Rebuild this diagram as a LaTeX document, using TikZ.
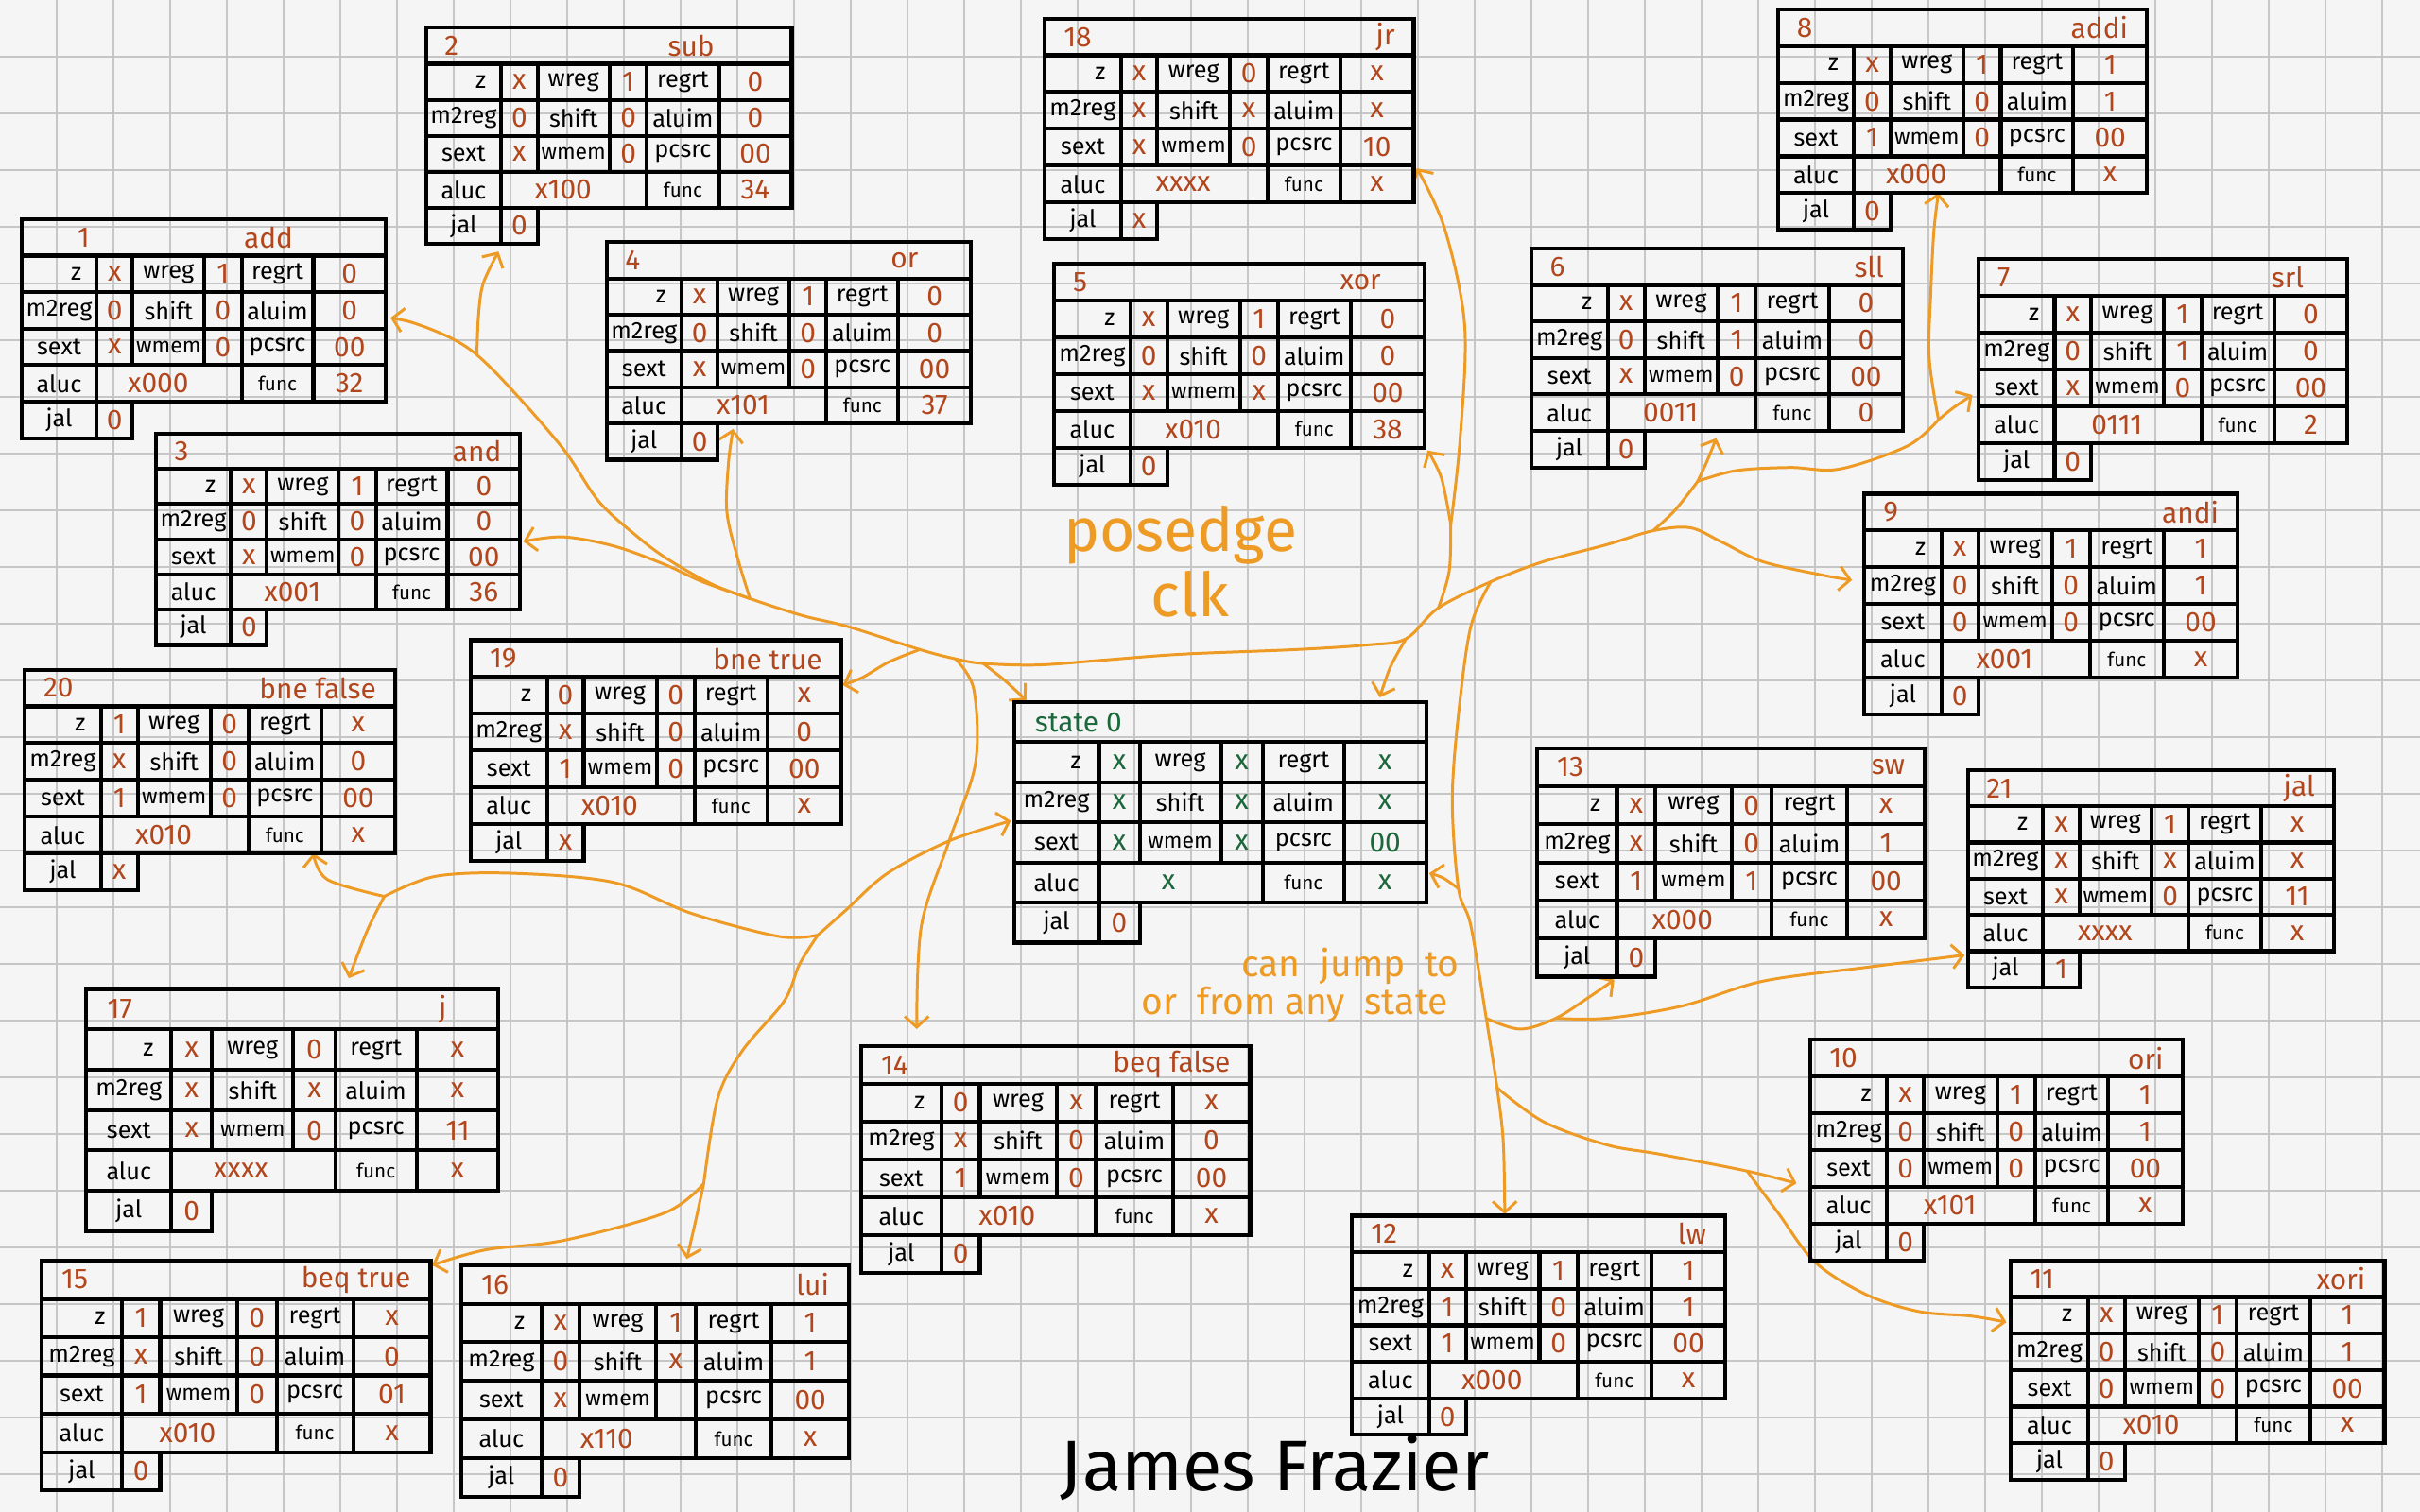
\documentclass[tikz,border=0pt]{standalone}
\usepackage{fontspec}
\setmainfont{Fira Sans}
\usetikzlibrary{arrows.meta}
\definecolor{valred}{RGB}{178,70,28}
\definecolor{arr}{RGB}{238,155,38}
\definecolor{grn}{RGB}{28,104,60}
\definecolor{bg}{RGB}{245,245,245}
\definecolor{gridc}{RGB}{198,198,198}
\def\vcol{valred}
\tikzset{
  tab/.style={line width=1.8pt, line join=miter},
  lab/.style={font=\fontsize{11}{11}\selectfont, text=black, inner sep=0pt},
  slab/.style={font=\fontsize{10}{10}\selectfont, text=black, inner sep=0pt},
  flab/.style={font=\fontsize{9}{9}\selectfont, text=black, inner sep=0pt},
  val/.style={font=\fontsize{13}{13}\selectfont, text=\vcol, inner sep=0pt},
  ttl/.style={font=\fontsize{13}{13}\selectfont, text=\vcol, inner sep=0pt},
  conn/.style={draw=arr, line width=1.3pt, line cap=round, line join=round},
  arrowend/.style={-{Straight Barb[length=5pt,width=11pt]}},
  arrowboth/.style={{Straight Barb[length=5pt,width=11pt]}-{Straight Barb[length=5pt,width=11pt]}}
}
\def\stabv#1/#2/#3/#4/#5/#6/#7/#8/#9\relax{%
  \node[val] (\curname-v1) at (\qmb,\qna) {#1};
  \node[val] (\curname-v2) at (\qmd,\qna) {#2};
  \node[val] (\curname-v3) at (\qmf,\qna) {#3};
  \node[val] (\curname-v4) at (\qmb,\qnb) {#4};
  \node[val] (\curname-v5) at (\qmd,\qnb) {#5};
  \node[val] (\curname-v6) at (\qmf,\qnb) {#6};
  \node[val] (\curname-v7) at (\qmb,\qnc) {#7};
  \node[val] (\curname-v8) at (\qmd,\qnc) {#8};
  \node[val] (\curname-v9) at (\qmf,\qnc) {#9};
}
\def\stabw#1/#2/#3\relax{%
  \node[val] (\curname-v10) at ({\qX+0.375*\qW},\qnd) {#1};
  \node[val] (\curname-v11) at (\qmf,\qnd) {#2};
  \node[val,text=valred] (\curname-v12) at (\qmb,\qne) {#3};
}
\def\stab#1(#2,#3,#4,#5)#6#7#8#9{%
  \def\curname{#1}%
  \pgfmathsetmacro\qX{#2}%
  \pgfmathsetmacro\qY{#3}%
  \pgfmathsetmacro\qW{#4-#2}%
  \pgfmathsetmacro\qH{(#5-#3)/6}%
  \pgfmathsetmacro\qa{\qX+0.206*\qW}%
  \pgfmathsetmacro\qb{\qX+0.305*\qW}%
  \pgfmathsetmacro\qc{\qX+0.502*\qW}%
  \pgfmathsetmacro\qd{\qX+0.604*\qW}%
  \pgfmathsetmacro\qe{\qX+0.801*\qW}%
  \pgfmathsetmacro\qf{#4}%
  \pgfmathsetmacro\qra{\qY+\qH}%
  \pgfmathsetmacro\qrb{\qY+2*\qH}%
  \pgfmathsetmacro\qrc{\qY+3*\qH}%
  \pgfmathsetmacro\qrd{\qY+4*\qH}%
  \pgfmathsetmacro\qre{\qY+5*\qH}%
  \pgfmathsetmacro\qrf{#5}%
  \pgfmathsetmacro\qma{(\qX+\qa)/2}%
  \pgfmathsetmacro\qmb{(\qa+\qb)/2}%
  \pgfmathsetmacro\qmc{(\qb+\qc)/2}%
  \pgfmathsetmacro\qmd{(\qc+\qd)/2}%
  \pgfmathsetmacro\qme{(\qd+\qe)/2}%
  \pgfmathsetmacro\qmf{(\qe+\qf)/2}%
  \pgfmathsetmacro\qnt{(\qY+\qra)/2}%
  \pgfmathsetmacro\qna{(\qra+\qrb)/2}%
  \pgfmathsetmacro\qnb{(\qrb+\qrc)/2}%
  \pgfmathsetmacro\qnc{(\qrc+\qrd)/2}%
  \pgfmathsetmacro\qnd{(\qrd+\qre)/2}%
  \pgfmathsetmacro\qne{(\qre+\qrf)/2}%
  \coordinate (#1) at ({(\qX+\qf)/2},{(\qY+\qre)/2});
  \draw[tab] (\qX,\qY) rectangle (\qf,\qre);
  \draw[tab] (\qX,\qra) -- (\qf,\qra) (\qX,\qrb) -- (\qf,\qrb) (\qX,\qrc) -- (\qf,\qrc) (\qX,\qrd) -- (\qf,\qrd);
  \draw[tab] (\qa,\qra) -- (\qa,\qre) (\qb,\qra) -- (\qb,\qrd) (\qc,\qra) -- (\qc,\qrd) (\qd,\qra) -- (\qd,\qre) (\qe,\qra) -- (\qe,\qre);
  \draw[tab] (\qX,\qre) rectangle (\qb,\qrf) (\qa,\qre) -- (\qa,\qrf);
  \node[ttl,anchor=west] (#1-num) at ({\qX+0.05*\qW},\qnt) {#6};
  \node[ttl,anchor=east] (#1-name) at ({\qf-0.05*\qW},\qnt) {#7};
  \node[lab] (#1-l1) at ({\qX+0.15*\qW},\qna) {z};
  \node[lab] (#1-l2) at (\qmc,\qna) {wreg};
  \node[lab] (#1-l3) at (\qme,\qna) {regrt};
  \node[lab] (#1-l4) at (\qma,\qnb) {m2reg};
  \node[lab] (#1-l5) at (\qmc,\qnb) {shift};
  \node[lab] (#1-l6) at (\qme,\qnb) {aluim};
  \node[lab] (#1-l7) at (\qma,\qnc) {sext};
  \node[slab] (#1-l8) at (\qmc,\qnc) {wmem};
  \node[lab] (#1-l9) at (\qme,\qnc) {pcsrc};
  \node[lab] (#1-l10) at (\qma,\qnd) {aluc};
  \node[flab] (#1-l11) at (\qme,\qnd) {func};
  \node[lab] (#1-l12) at (\qma,\qne) {jal};
  \stabv#8\relax
  \stabw#9\relax
}
\begin{document}
\begin{tikzpicture}[x=0.025cm,y=-0.025cm]
\useasboundingbox (0,0) rectangle (1568,980);
\fill[bg] (0,0) rectangle (1568,980);
\foreach \i in {1,...,42} \draw[gridc, line width=0.6pt] (\i*36.75,0) -- (\i*36.75,980);
\foreach \j in {1,...,26} \draw[gridc, line width=0.6pt] (0,\j*36.75) -- (1568,\j*36.75);

% ---- connector coordinates ----
\coordinate (tip1) at (253,206);
\coordinate (tip2) at (323,163);
\coordinate (tip3) at (339,351);
\coordinate (tip4) at (475,278);
\coordinate (tip5) at (925,292);
\coordinate (tip6) at (1112,284);
\coordinate (tip7) at (1278,256);
\coordinate (tip8) at (1256,125);
\coordinate (tip9) at (1200,376);
\coordinate (tip10) at (1164,767);
\coordinate (tip11) at (1300,857);
\coordinate (tip12) at (975,787);
\coordinate (tip13) at (1046,635);
\coordinate (tip14) at (594,667);
\coordinate (tip15) at (280,820);
\coordinate (tip16) at (445,816);
\coordinate (tip17) at (226,634);
\coordinate (tip18) at (918,109);
\coordinate (tip19) at (546,444);
\coordinate (tip20) at (203,553);
\coordinate (tip21) at (1273,619);
\coordinate (tip0a) at (665,454);
\coordinate (tip0b) at (894,452);
\coordinate (tip0c) at (926,566);
\coordinate (tip0d) at (655,532);
\coordinate (j2) at (309,230);
\coordinate (jA) at (486,388);
\coordinate (jB) at (596,421);
\coordinate (jC) at (619,427);
\coordinate (jD) at (637,430);
\coordinate (jE) at (911,414);
\coordinate (jF) at (932,394);
\coordinate (jG) at (966,377);
\coordinate (jH) at (1071,344);
\coordinate (jI) at (940,340);
\coordinate (jJ) at (1100,312);
\coordinate (jK) at (1256,272);
\coordinate (jL) at (945,576);
\coordinate (jM) at (963,660);
\coordinate (jN) at (970,705);
\coordinate (jO) at (1008,660);
\coordinate (jP) at (1132,759);
\coordinate (jQ) at (530,606);
\coordinate (jR) at (456,767);
\coordinate (jS) at (249,581);

% ---- connectors ----
\draw[conn, arrowboth] plot[smooth, tension=0.55] coordinates {(tip1) (270,210) (292,219) (j2) (332,253) (365,291) (388,325) (412,347) (432,362) (460,378) (jA) (520,399) (549,406) (jB) (jC) (jD) (672,431) (713,428) (766,424) (840,421) (886,418) (jE) (jF) (jG) (1000,364) (1041,353) (jH) (1095,342) (1115,351) (1142,364) (1182,373) (tip9)};
\draw[conn, arrowend] plot[smooth, tension=0.55] coordinates {(j2) (310,205) (313,184) (tip2)};
\draw[conn, arrowend] plot[smooth, tension=0.55] coordinates {(jA) (455,377) (431,366) (398,354) (365,348) (tip3)};
\draw[conn, arrowend] plot[smooth, tension=0.55] coordinates {(jA) (478,362) (471,332) (472,300) (tip4)};
\draw[conn, arrowend] plot[smooth, tension=0.55] coordinates {(jB) (576,429) (559,439) (tip19)};
\draw[conn, arrowend] plot[smooth, tension=0.55] coordinates {(jD) (651,441) (tip0a)};
\draw[conn, arrowend] plot[smooth, tension=0.55] coordinates {(jC) (631,447) (632,495) (615,545) (597,600) (tip14)};
\draw[conn, arrowend] plot[smooth, tension=0.55] coordinates {(jE) (901,432) (tip0b)};
\draw[conn] plot[smooth, tension=0.55] coordinates {(jF) (939,370) (jI)};
\draw[conn, arrowend] plot[smooth, tension=0.55] coordinates {(jI) (946,285) (949,211) (936,148) (tip18)};
\draw[conn, arrowend] plot[smooth, tension=0.55] coordinates {(jI) (934,310) (tip5)};
\draw[conn] plot[smooth, tension=0.55] coordinates {(jH) (1085,331) (jJ)};
\draw[conn, arrowend] plot[smooth, tension=0.55] coordinates {(jJ) (1106,299) (tip6)};
\draw[conn] plot[smooth, tension=0.55] coordinates {(jJ) (1125,305) (1160,303) (1192,304) (1236,289) (jK)};
\draw[conn, arrowend] plot[smooth, tension=0.55] coordinates {(jK) (1266,264) (tip7)};
\draw[conn, arrowend] plot[smooth, tension=0.55] coordinates {(jK) (1250,232) (1251,190) (1253,150) (tip8)};
\draw[conn, arrowend] plot[smooth, tension=0.55] coordinates {(jG) (953,406) (945,463) (941,519) (jL) (953,600) (jM) (jN) (974,740) (tip12)};
\draw[conn, arrowend] plot[smooth, tension=0.55] coordinates {(jL) (935,569) (tip0c)};
\draw[conn, arrowend] plot[smooth, tension=0.55] coordinates {(jM) (985,667) (jO) (1030,646) (tip13)};
\draw[conn, arrowend] plot[smooth, tension=0.55] coordinates {(jO) (1041,660) (1090,652) (1142,636) (1209,627) (tip21)};
\draw[conn, arrowend] plot[smooth, tension=0.55] coordinates {(jN) (1000,727) (1041,742) (1075,748) (jP) (tip10)};
\draw[conn, arrowend] plot[smooth, tension=0.55] coordinates {(jP) (1152,786) (1176,818) (1209,839) (1243,850) (1277,853) (tip11)};
\draw[conn, arrowend] plot[smooth, tension=0.55] coordinates {(jQ) (548,590) (575,566) (615,545) (tip0d)};
\draw[conn] plot[smooth, tension=0.55] coordinates {(jQ) (518,625) (508,649) (481,681) (465,712) (jR)};
\draw[conn, arrowend] plot[smooth, tension=0.55] coordinates {(jR) (451,790) (tip16)};
\draw[conn, arrowend] plot[smooth, tension=0.55] coordinates {(jR) (431,786) (365,804) (315,810) (tip15)};
\draw[conn] plot[smooth, tension=0.55] coordinates {(jQ) (505,607) (448,592) (398,572) (332,566) (282,568) (jS)};
\draw[conn, arrowend] plot[smooth, tension=0.55] coordinates {(jS) (212,570) (tip20)};
\draw[conn, arrowend] plot[smooth, tension=0.55] coordinates {(jS) (238,603) (tip17)};

% ---- state tables ----
{\def\vcol{grn}\stab{s0}(657,455,924,611){state 0}{}{x/x/x/x/x/x/x/x/00}{x/x/0}}
\stab{s1}(14,142,250,284){\hspace*{0.6cm}1}{add\hspace*{1.2cm}}{x/1/0/0/0/0/x/0/00}{x000/32/0}
\stab{s2}(276,18,513,158){2}{sub\hspace*{0.95cm}}{x/1/0/0/0/0/x/0/00}{x100/34/0}
\stab{s3}(101,281,337,418){3}{and}{x/1/0/0/0/0/x/0/00}{x001/36/0}
\stab{s4}(393,157,629,298){4}{or\hspace*{0.55cm}}{x/1/0/0/0/0/x/0/00}{x101/37/0}
\stab{s5}(683,171,923,314){5}{xor\hspace*{0.4cm}}{x/1/0/0/0/0/x/x/00}{x010/38/0}
\stab{s6}(992,161,1233,303){6}{sll}{x/1/0/0/1/0/x/0/00}{0011/0/0}
\stab{s7}(1282,168,1521,311){7}{srl\hspace*{0.4cm}}{x/1/0/0/1/0/x/0/00}{0111/2/0}
\stab{s8}(1152,6,1391,149){8}{addi}{x/1/1/0/0/1/1/0/00}{x000/x/0}
\stab{s9}(1208,320,1450,463){9}{andi}{x/1/1/0/0/1/0/0/00}{x001/x/0}
\stab{s10}(1173,674,1414,817){10}{ori}{x/1/1/0/0/1/0/0/00}{x101/x/0}
\stab{s11}(1303,817,1545,959){11}{xori}{x/1/1/0/0/1/0/0/00}{x010/x/0}
\stab{s12}(876,788,1118,930){12}{lw}{x/1/1/1/0/1/1/0/00}{x000/x/0}
\stab{s13}(996,485,1247,633){13}{sw}{x/0/x/x/0/1/1/1/00}{x000/x/0}
\stab{s14}(558,678,810,825){14}{beq false}{0/x/x/x/0/0/1/0/00}{x010/x/0}
\stab{s15}(27,817,279,966){15}{beq true}{1/0/x/x/0/0/1/0/01}{x010/x/0}
\stab{s16}(299,820,550,970){16}{lui}{x/1/1/0/x/1/x//00}{x110/x/0}
\stab{s17}(56,641,323,798){17}{j\hspace*{0.5cm}}{x/0/x/x/x/x/x/0/11}{xxxx/x/0}
\stab{s18}(677,12,916,155){18}{jr}{x/0/x/x/x/x/x/0/10}{xxxx/x/x}
\stab{s19}(305,415,545,558){19}{bne true}{0/0/x/x/0/0/1/0/00}{x010/x/x}
\stab{s20}(16,434,256,577){20}{bne false}{1/0/x/x/0/0/1/0/00}{x010/x/x}
\stab{s21}(1275,499,1512,640){21}{jal}{x/1/x/x/x/x/x/0/11}{xxxx/x/1}

% ---- free texts ----
\node[font=\fontsize{28}{28}\selectfont, text=arr, inner sep=0pt] (pe) at (765,347) {posedge};
\node[font=\fontsize{28}{28}\selectfont, text=arr, inner sep=0pt] (clk) at (771,385) {clk};
\node[font=\fontsize{17}{17}\selectfont, text=arr, inner sep=0pt] (cj1) at (875,626) {can\ \ jump\ \ to};
\node[font=\fontsize{17}{17}\selectfont, text=arr, inner sep=0pt] (cj2) at (839,651) {or\ \ from any\ \ state};
\node[font=\fontsize{33}{33}\selectfont, text=black, inner sep=0pt] (author) at (826,951) {James Frazier};
\end{tikzpicture}
\end{document}
